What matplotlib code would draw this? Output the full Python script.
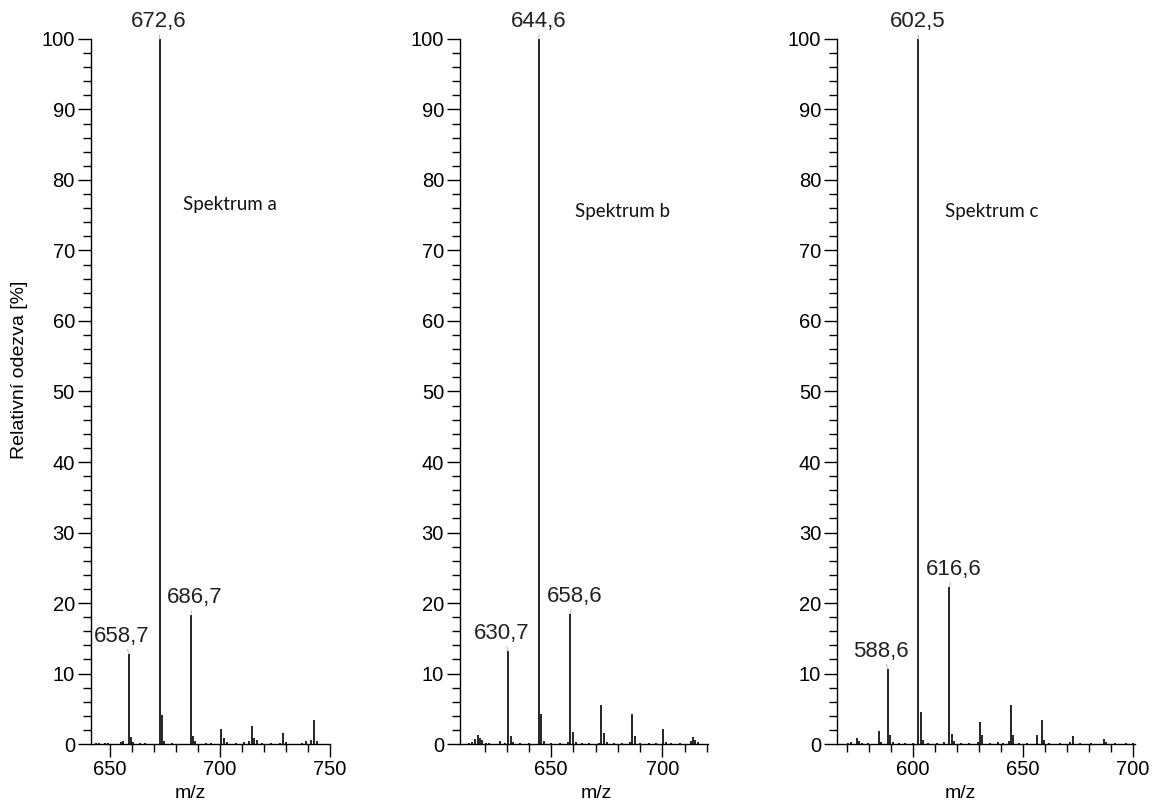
import matplotlib
matplotlib.use('Agg')
import matplotlib.pyplot as plt
from matplotlib.ticker import MultipleLocator

plt.rcParams['font.family'] = ['Liberation Sans', 'DejaVu Sans']

# Spektrum a: m/z and relative intensity (%)
mz_a = [643.5, 645.0, 647.8, 649.0, 655.2, 656.0, 658.7, 659.7, 660.7, 663.5,
        666.0, 672.6, 673.6, 674.6, 678.0, 686.7, 687.7, 688.7, 693.5, 696.0,
        700.7, 701.7, 703.0, 707.5, 711.0, 713.0, 714.7, 715.7, 716.7, 719.0,
        723.0, 727.5, 728.7, 730.0, 737.5, 739.0, 741.5, 742.7, 744.0]
int_a = [0.2, 0.2, 0.15, 0.2, 0.3, 0.4, 12.8, 1.0, 0.3, 0.15,
         0.2, 100.0, 4.1, 0.4, 0.2, 18.3, 1.2, 0.4, 0.2, 0.2,
         2.2, 0.8, 0.3, 0.2, 0.3, 0.4, 2.6, 0.9, 0.6, 0.2,
         0.2, 0.2, 1.6, 0.3, 0.2, 0.4, 0.5, 3.35, 0.4]
labels_a = [658.7, 672.6, 686.7]

# Spektrum b
mz_b = [613.0, 614.5, 615.5, 616.9, 617.9, 618.9, 620.5, 622.0, 626.9, 629.0,
        630.7, 631.7, 633.0, 636.0, 640.0, 644.6, 645.6, 646.6, 650.0, 654.0,
        657.6, 658.6, 659.6, 661.0, 664.0, 667.0, 671.6, 672.5, 673.5, 675.0,
        678.0, 682.0, 685.6, 686.5, 687.5, 690.0, 694.0, 697.0, 700.4, 701.4,
        704.0, 708.0, 712.8, 713.8, 714.8, 716.0]
int_b = [0.2, 0.3, 0.65, 1.3, 0.9, 0.5, 0.2, 0.2, 0.4, 0.2,
         13.2, 1.2, 0.3, 0.2, 0.2, 100.0, 4.2, 0.4, 0.2, 0.2,
         0.3, 18.5, 1.65, 0.3, 0.2, 0.2, 0.2, 5.5, 1.5, 0.3,
         0.2, 0.2, 0.3, 4.2, 1.1, 0.2, 0.2, 0.2, 2.2, 0.3,
         0.2, 0.2, 0.4, 0.95, 0.5, 0.3]
labels_b = [630.7, 644.6, 658.6]

# Spektrum c
mz_c = [570.5, 572.0, 574.6, 575.6, 577.0, 579.5, 584.6, 585.6, 588.6, 589.6,
        591.0, 593.5, 596.5, 600.0, 602.5, 603.5, 604.5, 607.0, 611.0, 614.0,
        616.6, 617.6, 618.6, 622.0, 625.5, 629.6, 630.6, 631.6, 635.0, 638.5,
        641.0, 643.6, 644.6, 645.6, 648.0, 652.0, 656.6, 658.6, 659.6, 662.0,
        667.0, 671.6, 672.6, 676.0, 681.0, 686.7, 687.7, 692.0, 697.0, 700.0]
int_c = [0.2, 0.3, 0.9, 0.4, 0.2, 0.2, 1.85, 0.3, 10.7, 1.3,
         0.3, 0.2, 0.2, 0.2, 100.0, 4.5, 0.5, 0.2, 0.2, 0.3,
         22.3, 1.4, 0.4, 0.2, 0.2, 0.3, 3.15, 1.3, 0.2, 0.3,
         0.2, 0.4, 5.5, 1.3, 0.2, 0.2, 1.3, 3.4, 0.5, 0.2,
         0.2, 0.3, 1.1, 0.2, 0.2, 0.7, 0.3, 0.2, 0.2, 0.2]
labels_c = [588.6, 602.5, 616.6]

names = ['Spektrum a', 'Spektrum b', 'Spektrum c']
xlims = [(641.4, 750.0), (609.0, 720.5), (565.5, 701.0)]
major_x = [[650, 700, 750], [650, 700], [600, 650, 700]]
minor_x = [list(range(660, 750, 10)), list(range(620, 730, 10)), list(range(570, 710, 10))]
name_pos = [(683.4, 76.5), (660.6, 75.5), (614.6, 75.5)]
xlabel_x = [0.414, 0.548, 0.413]
# horizontal nudge of the peak labels (points): left peak, base peak, right peak
label_dx = [-5, -0.7, 3]


def main():
    fig = plt.figure(figsize=(11.53, 8.02), dpi=100)
    rects = [[0.0789, 0.0723, 0.2073, 0.8791],
             [0.3990, 0.0723, 0.2151, 0.8791],
             [0.7260, 0.0723, 0.2585, 0.8791]]
    data = [(mz_a, int_a, labels_a), (mz_b, int_b, labels_b), (mz_c, int_c, labels_c)]

    for i, (mz, inten, labs) in enumerate(data):
        ax = fig.add_axes(rects[i])
        ax.vlines(mz, 0, inten, color='black', lw=1.2)
        ax.set_xlim(*xlims[i])
        ax.set_ylim(0, 100)
        for s in ['top', 'right']:
            ax.spines[s].set_visible(False)
        for s in ['left', 'bottom']:
            ax.spines[s].set_linewidth(1.0)
        ax.set_xticks(major_x[i])
        ax.set_xticks(minor_x[i], minor=True)
        ax.yaxis.set_major_locator(MultipleLocator(10))
        ax.yaxis.set_minor_locator(MultipleLocator(2))
        ax.tick_params(which='major', length=9.5, width=1.0, labelsize=14.5, pad=2)
        ax.tick_params(which='minor', length=6, width=1.0)
        ax.set_xlabel('m/z', fontsize=14)
        ax.xaxis.set_label_coords(xlabel_x[i], -0.058)

        # peak labels with tiny leader lines
        for j, lab in enumerate(labs):
            h = inten[mz.index(lab)]
            ax.annotate(('%.1f' % lab).replace('.', ','), xy=(lab, h),
                        xytext=(label_dx[j], 5), textcoords='offset points',
                        ha='center', va='bottom', fontsize=16, color='#222222',
                        annotation_clip=False,
                        arrowprops=dict(arrowstyle='-', color='#a8c4a8', lw=0.7,
                                        shrinkA=0, shrinkB=0))

        ax.text(name_pos[i][0], name_pos[i][1], names[i], family='Lato',
                fontsize=13.5, ha='left', va='center', color='#111111')

    fig.text(0.0173, 0.539, 'Relativní odezva [%]', rotation=90,
             ha='center', va='center', fontsize=14)

    fig.savefig('out.png', dpi=100)


if __name__ == "__main__":
    main()
